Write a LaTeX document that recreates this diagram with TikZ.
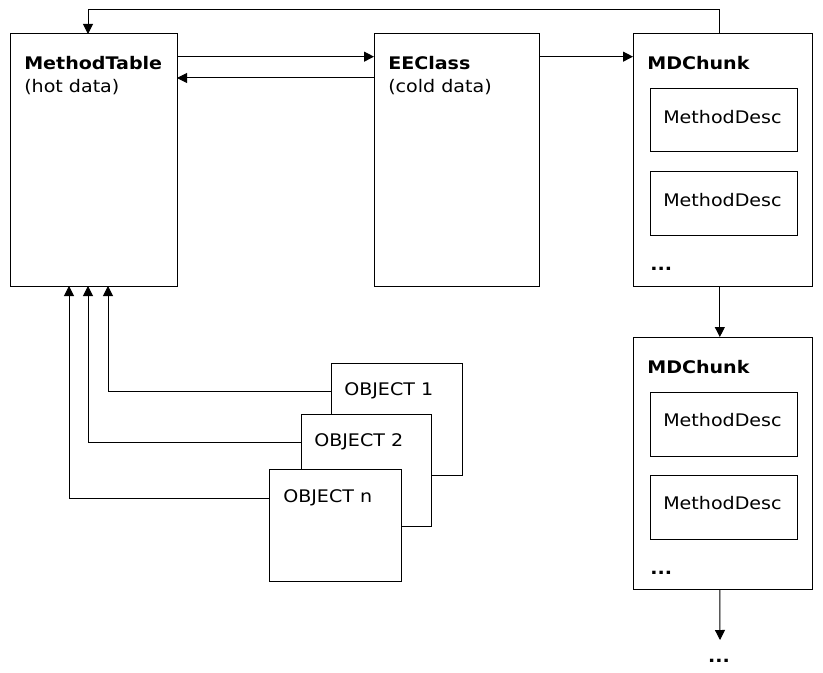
\documentclass[tikz,border=0pt]{standalone}
\usepackage{fontspec}
\setmainfont{DejaVu Sans}[FakeStretch=1.1]
\usepackage{tikz}
\usetikzlibrary{positioning,arrows.meta,fit}

\begin{document}
\begin{tikzpicture}[
  x=0.75pt, y=-0.75pt,
  font=\fontsize{13}{17.5}\selectfont,
  box/.style={draw, line width=0.75pt, fill=white, inner sep=0pt, outer sep=0pt},
  txt/.style={inner sep=0pt, anchor=west},
  title/.style={inner sep=0pt, anchor=north west, align=left},
  arrow/.style={-{Triangle[width=7.5pt,length=7.5pt]}, line width=0.75pt}
]
\useasboundingbox (0,0) rectangle (823,673);

%% Type data
\node (mt) [box, fit={(10,34) (177,286)}] {};
\node (mttxt) [title] at (24,56) {\textbf{MethodTable}\\(hot data)};

\node (ee) [box, fit={(374,34) (539,286)}] {};
\node (eetxt) [title] at (388,56) {\textbf{EEClass}\\(cold data)};

%% Method chunks
\node (mdc1) [box, fit={(633,34) (812,286)}] {};
\node (mdc1txt) [txt] at (647,63) {\textbf{MDChunk}};
\node (md1) [box, fit={(650,89) (797,152)}] {};
\node (md1txt) [txt] at (663,117) {MethodDesc};
\node (md2) [box, fit={(650,172) (797,236)}] {};
\node (md2txt) [txt] at (663,200) {MethodDesc};
\node (dots1) [txt] at (650,269) {\textbf{...}};

\node (mdc2) [box, fit={(633,337) (812,589)}] {};
\node (mdc2txt) [txt] at (647,367) {\textbf{MDChunk}};
\node (md3) [box, fit={(650,392) (797,456)}] {};
\node (md3txt) [txt] at (663,420) {MethodDesc};
\node (md4) [box, fit={(650,475) (797,539)}] {};
\node (md4txt) [txt] at (663,503) {MethodDesc};
\node (dots2) [txt] at (650,573) {\textbf{...}};

\coordinate (endtip) at (720,640);
\node (enddots) [inner sep=0pt] at (719,661) {\textbf{...}};

%% Object instances
\node (obj1) [box, fit={(331,363) (462,475)}] {};
\node (obj1txt) [txt] at (344,391) {OBJECT 1};
\node (obj2) [box, fit={(301,414) (431,526)}] {};
\node (obj2txt) [txt] at (314,442) {OBJECT 2};
\node (objn) [box, fit={(269,469) (401,581)}] {};
\node (objntxt) [txt] at (283,498) {OBJECT n};

\coordinate (in1) at (108,286);
\coordinate (in2) at (88,286);
\coordinate (inn) at (69,286);
\coordinate (loopin) at (88,34);

%% Arrows between type data
\draw [arrow] ([yshift=-17pt]mt.north east) -- ([yshift=-17pt]ee.north west);
\draw [arrow] ([yshift=-33pt]ee.north west) -- ([yshift=-33pt]mt.north east);
\draw [arrow] ([yshift=-17pt]ee.north east) -- ([yshift=-17pt]mdc1.north west);

%% Chunk back to MethodTable
\draw [arrow] ([xshift=-2pt]mdc1.north) -- ++(0,-24) -| (loopin);

%% Chunk list
\draw [arrow] ([xshift=-2pt]mdc1.south) -- ([xshift=-2pt]mdc2.north);
\draw [arrow] ([xshift=-2pt]mdc2.south) -- (endtip);

%% Objects to MethodTable
\draw [arrow] (obj1.west |- obj1txt.west) -| (in1);
\draw [arrow] (obj2.west |- obj2txt.west) -| (in2);
\draw [arrow] (objn.west |- objntxt.west) -| (inn);

\end{tikzpicture}
\end{document}
